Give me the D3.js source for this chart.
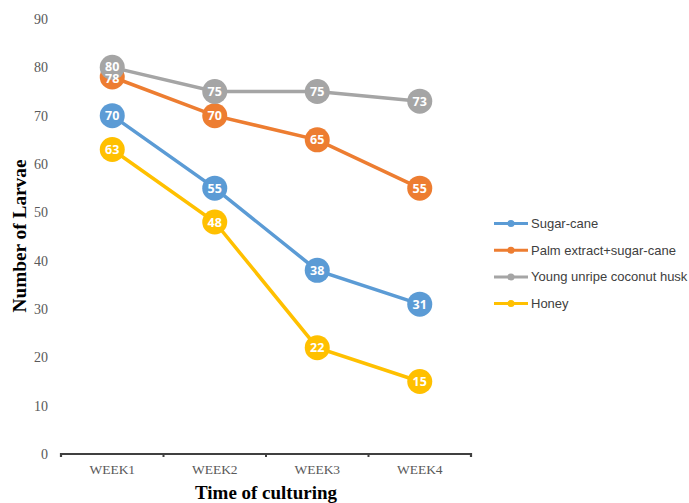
<!DOCTYPE html>
<html>
<head>
<meta charset="utf-8">
<script src="https://cdn.jsdelivr.net/npm/d3@7"></script>
<style>
body { margin: 0; background: #fff; }
</style>
</head>
<body>
<script>
var weeks = ["WEEK1", "WEEK2", "WEEK3", "WEEK4"];
var seriesNames = ["Sugar-cane", "Palm extract+sugar-cane", "Young unripe coconut husk", "Honey"];
var sugarCane = [70, 55, 38, 31];
var palmExtract = [78, 70, 65, 55];
var coconutHusk = [80, 75, 75, 73];
var honey = [63, 48, 22, 15];
var yTicks = [0, 10, 20, 30, 40, 50, 60, 70, 80, 90];
var colors = ["#5B9BD5", "#ED7D31", "#A5A5A5", "#FFC000"];

var series = [sugarCane, palmExtract, coconutHusk, honey].map(function (v, i) {
    return { name: seriesNames[i], values: v, color: colors[i] };
});

var svgWidth = 689, svgHeight = 503;
var svg = d3.select('body').append('svg')
    .attr('width', svgWidth).attr('height', svgHeight);

var xScale = d3.scaleBand().domain(weeks).range([61, 471]);
var yScale = d3.scaleLinear().domain([0, 90]).range([454, 19]);

var serif = '"Liberation Serif", "Times New Roman", serif';

// y tick labels (no axis line)
svg.append('g').selectAll('text').data(yTicks).enter().append('text')
    .attr('x', 48)
    .attr('y', d => yScale(d))
    .attr('dy', '0.35em')
    .attr('text-anchor', 'end')
    .style('font-family', serif)
    .style('font-size', '14px')
    .style('fill', '#595959')
    .text(d => d);

// x axis
var x_axis = d3.axisBottom(xScale).tickSize(0).tickPadding(10);
var xg = svg.append('g')
    .attr('transform', 'translate(0,' + yScale(0) + ')')
    .call(x_axis);
xg.select('.domain').attr('stroke', '#404040').attr('stroke-width', 2.2)
    .attr('d', 'M61,3V0H471V3');
xg.selectAll('.tick text')
    .style('font-family', serif)
    .style('font-size', '13.5px')
    .style('fill', '#595959');
xg.selectAll('.boundary').data(d3.range(weeks.length + 1)).enter().append('line')
    .attr('x1', i => 61 + i * xScale.step())
    .attr('x2', i => 61 + i * xScale.step())
    .attr('y1', 0).attr('y2', 3)
    .attr('stroke', '#404040').attr('stroke-width', 2);

// axis titles
svg.append('text')
    .attr('x', 266).attr('y', 499)
    .attr('text-anchor', 'middle')
    .attr('textLength', 142).attr('lengthAdjust', 'spacingAndGlyphs')
    .style('font-family', serif)
    .style('font-size', '19px').style('font-weight', 'bold')
    .style('fill', '#000')
    .text('Time of culturing');

svg.append('text')
    .attr('transform', 'translate(26,236) rotate(-90)')
    .attr('text-anchor', 'middle')
    .attr('textLength', 153).attr('lengthAdjust', 'spacingAndGlyphs')
    .style('font-family', serif)
    .style('font-size', '19px').style('font-weight', 'bold')
    .style('fill', '#000')
    .text('Number of Larvae');

var cx = d => xScale(d) + xScale.bandwidth() / 2;
var line = d3.line()
    .x((d, i) => cx(weeks[i]))
    .y(d => yScale(d));

var groups = svg.selectAll('.series').data(series).enter().append('g').attr('class', 'series');

groups.append('path')
    .attr('d', d => line(d.values))
    .attr('fill', 'none')
    .attr('stroke', d => d.color)
    .attr('stroke-width', 3.5);

groups.each(function (s) {
    d3.select(this).selectAll('circle').data(s.values).enter().append('circle')
        .attr('cx', (d, i) => cx(weeks[i]))
        .attr('cy', d => yScale(d))
        .attr('r', 12.5)
        .attr('fill', s.color);
});

// data labels on top of every marker; nudge labels apart when two are very close
function nudge(s, d, i) {
    var off = 0;
    series.forEach(function (o) {
        if (o === s) return;
        var gap = yScale(o.values[i]) - yScale(d);
        if (Math.abs(gap) < 11) off += gap > 0 ? -1 : 1;
    });
    return off;
}
var labels = svg.append('g');
series.forEach(function (s) {
    labels.selectAll(null).data(s.values).enter().append('text')
        .attr('x', (d, i) => cx(weeks[i]))
        .attr('y', (d, i) => yScale(d) + nudge(s, d, i))
        .attr('dy', '0.36em')
        .attr('text-anchor', 'middle')
        .style('font-family', '"Open Sans", "Liberation Sans", sans-serif')
        .style('font-size', '12.5px').style('font-weight', 'bold')
        .style('fill', '#fff')
        .text(d => d);
});

// legend
var legend = svg.append('g').selectAll('g').data(series).enter().append('g')
    .attr('transform', (d, i) => 'translate(494,' + (223.5 + i * 26.7) + ')');
legend.append('line')
    .attr('x1', 0).attr('x2', 34).attr('y1', 0).attr('y2', 0)
    .attr('stroke', d => d.color).attr('stroke-width', 3);
legend.append('circle')
    .attr('cx', 17).attr('cy', 0).attr('r', 3.5)
    .attr('fill', d => d.color);
legend.append('text')
    .attr('x', 37).attr('y', 0).attr('dy', '0.35em')
    .style('font-family', '"Liberation Sans", Arial, sans-serif')
    .style('font-size', '13px')
    .style('fill', '#404040')
    .text(d => d.name);
</script>
</body>
</html>
